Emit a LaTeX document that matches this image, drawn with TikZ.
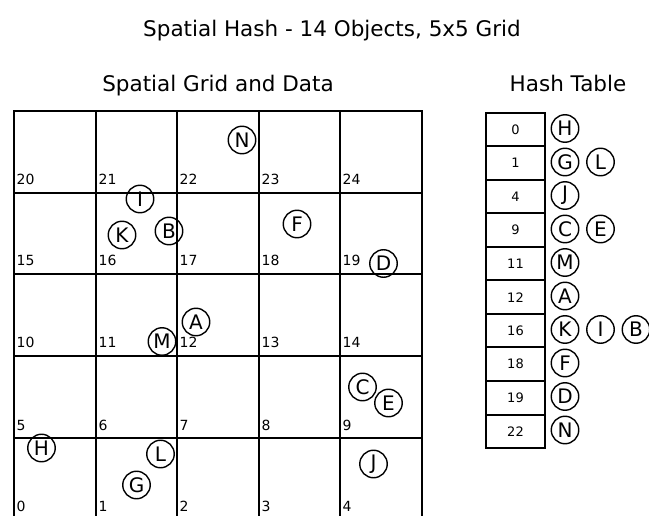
\documentclass[tikz,border=0pt]{standalone}
\usepackage{fontspec}
\setmainfont{DejaVu Sans}
\begin{document}
\begin{tikzpicture}[x=1pt,y=-1pt,
  gridline/.style={line width=2pt,line cap=rect},
  cellnum/.style={anchor=base west,inner sep=0pt,font=\fontsize{14}{14}\selectfont},
  obj/.style={circle,draw,line width=1.4pt,minimum size=27.5pt,inner sep=0pt,font=\fontsize{20}{20}\selectfont},
  hrow/.style={draw,line width=2pt,minimum width=59pt,minimum height=33.5pt,inner sep=0pt,anchor=north west,font=\fontsize{13}{13}\selectfont},
  heading/.style={inner sep=0pt,anchor=base,font=\fontsize{21.5}{21.5}\selectfont}]
\useasboundingbox (0,0) rectangle (649,516);
\clip (0,0) rectangle (649,516);
% headings
\node[heading] (title) at (332,37) {Spatial Hash - 14 Objects, 5x5 Grid};
\node[heading] (gridtitle) at (218,92) {Spatial Grid and Data};
\node[heading] (hashtitle) at (568,92) {Hash Table};
% grid
\foreach \x in {14,96,177,259,340,422} {
  \draw[gridline] (\x,111) -- (\x,519);
}
\foreach \y in {111,193,274,356,438,519} {
  \draw[gridline] (14,\y) -- (422,\y);
}
% cell numbers
\foreach \r/\yb in {0/519,1/438,2/356,3/274,4/193} {
  \foreach \c/\xl in {0/14,1/96,2/177,3/259,4/340} {
    \pgfmathtruncatemacro{\n}{\r*5+\c}
    \node[cellnum] (c\n) at ({\xl+2.5},{\yb-8}) {\n};
  }
}
% objects in the grid
\node[obj] (oN) at (242,140) {N};
\node[obj] (oI) at (140,199) {I};
\node[obj] (oK) at (122,235) {K};
\node[obj] (oB) at (169,231) {B};
\node[obj] (oF) at (297,224) {F};
\node[obj] (oD) at (383.5,263.5) {D};
\node[obj] (oA) at (196,322) {A};
\node[obj] (oM) at (162,341.5) {M};
\node[obj] (oH) at (41.5,448) {H};
\node[obj] (oL) at (160.5,454) {L};
\node[obj] (oG) at (136.5,485) {G};
\node[obj] (oC) at (362.5,387) {C};
\node[obj] (oE) at (388.5,403) {E};
\node[obj] (oJ) at (373.5,464) {J};
% hash table
\foreach \k/\v [count=\j from 0] in {0/H, 1/G, 4/J, 9/C, 11/M, 12/A, 16/K, 18/F, 19/D, 22/N} {
  \node[hrow] (h\k) at (485,{112+33.5*\j}) {\k};
}
\node[obj] (hH) at (565,128.5) {H};
\node[obj] (hG) at (565,162) {G};
\node[obj] (hL) at (600.5,162) {L};
\node[obj] (hJ) at (565,195.5) {J};
\node[obj] (hC) at (565,229) {C};
\node[obj] (hE) at (600.5,229) {E};
\node[obj] (hM) at (565,262.5) {M};
\node[obj] (hA) at (565,296) {A};
\node[obj] (hK) at (565,329.5) {K};
\node[obj] (hI) at (600.5,329.5) {I};
\node[obj] (hB) at (636,329.5) {B};
\node[obj] (hF) at (565,363) {F};
\node[obj] (hD) at (565,396.5) {D};
\node[obj] (hN) at (565,430) {N};
\end{tikzpicture}
\end{document}
